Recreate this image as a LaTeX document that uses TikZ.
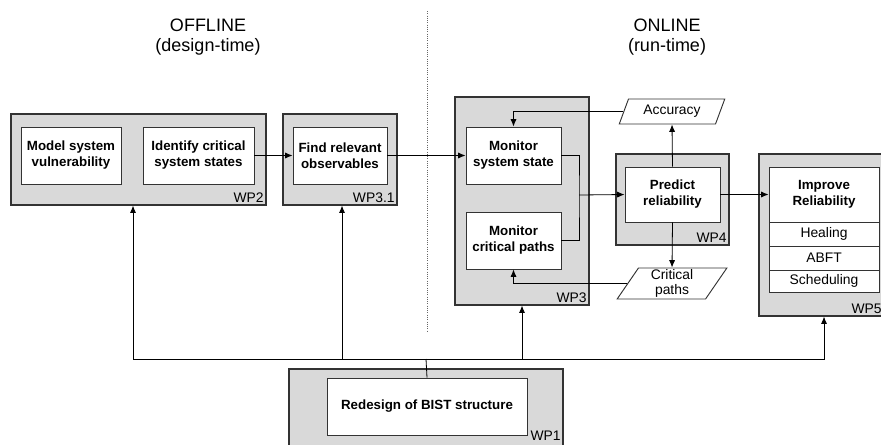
\documentclass[tikz,border=0pt]{standalone}
\usepackage{fontspec}
\setmainfont{Liberation Sans}
\usepackage{tikz}
\usetikzlibrary{positioning}
\usetikzlibrary{shapes.geometric,arrows.meta}
\definecolor{wpgray}{RGB}{217,217,217}

\begin{document}
\begin{tikzpicture}[x=0.75pt,y=-0.75pt,
  wpbox/.style = {shape=rectangle, draw=black!80, line width=0.8pt,
    fill=wpgray},
  taskbox/.style = {shape=rectangle, draw=black!80, line width=0.7pt,
    fill=white, align=center, inner sep=1pt,
    font=\fontsize{10}{12}\selectfont\bfseries},
  subbox/.style = {shape=rectangle, draw=black!80, line width=0.7pt,
    fill=white, minimum width=82.5pt, inner sep=0pt,
    font=\fontsize{10.4}{12}\selectfont},
  wplabel/.style = {anchor=south east, inner sep=2pt,
    font=\fontsize{10.4}{12}\selectfont},
  dataio/.style = {trapezium, trapezium left angle=64,
    trapezium right angle=116, trapezium stretches=true,
    draw=black!80, line width=0.7pt, fill=white, align=center,
    inner sep=0pt, font=\fontsize{10.4}{11}\selectfont},
  phase/.style = {align=center, font=\fontsize{13.5}{15}\selectfont},
  flow/.style = {draw, line width=0.6pt, -{Latex[length=5.5pt,width=4.5pt]}}
  ]
  \useasboundingbox (0,0) rectangle (881,444);
  \clip (0,0) rectangle (881,444);

  % offline / online split
  \node[phase] (offline) at (208,37) {OFFLINE\\(design-time)};
  \node[phase] (online) at (667,37) {ONLINE\\(run-time)};
  \draw[black!60, densely dotted, line width=0.7pt] (427,11) -- (427,331);

  % work packages
  \node[wpbox, minimum width=191.25pt, minimum height=68.25pt] (wp2) at (138.5,159.5) {};
  \node[wpbox, minimum width=85.5pt, minimum height=68.25pt] (wp31) at (340,159.5) {};
  \node[wpbox, minimum width=100.5pt, minimum height=156pt] (wp3) at (522,201) {};
  \node[wpbox, minimum width=84.75pt, minimum height=68.25pt] (wp4) at (672.5,199.5) {};
  \node[wpbox, minimum width=93.75pt, minimum height=121.5pt] (wp5) at (821.5,235) {};
  \node[wpbox, minimum width=205.5pt, minimum height=57.75pt] (wp1) at (426,407.5) {};

  \node[wplabel] (wp2lbl) at (wp2.south east) {WP2};
  \node[wplabel] (wp31lbl) at (wp31.south east) {WP3.1};
  \node[wplabel] (wp3lbl) at (wp3.south east) {WP3};
  \node[wplabel] (wp4lbl) at (wp4.south east) {WP4};
  \node[wplabel] (wp5lbl) at (wp5.south east) {WP5};
  \node[wplabel] (wp1lbl) at (wp1.east |- 0,443) {WP1};

  % tasks
  \node[taskbox, minimum width=75pt, minimum height=42.75pt] (model) at (71,155.5) {Model system\\vulnerability};
  \node[taskbox, minimum width=83.25pt, minimum height=42.75pt] (identify) at (198.5,155.5) {Identify critical\\system states};
  \node[taskbox, minimum width=70.5pt, minimum height=42.75pt] (observ) at (340,155.5) {Find relevant\\observables};
  \node[taskbox, minimum width=71.25pt, minimum height=42.75pt] (monstate) at (513.5,155.5) {Monitor\\system state};
  \node[taskbox, minimum width=71.25pt, minimum height=42.75pt] (monpaths) at (513.5,240.5) {Monitor\\critical paths};
  \node[taskbox, minimum width=71.25pt, minimum height=41.25pt] (predict) at (672.5,194.5) {Predict\\reliability};
  \node[taskbox, minimum width=82.5pt, minimum height=41.25pt] (improve) at (824,194.5) {Improve\\Reliability};
  \node[subbox, minimum height=18pt] (healing) at (824,234) {Healing};
  \node[subbox, minimum height=18pt] (abft) at (824,258) {ABFT};
  \node[subbox, minimum height=16.5pt] (sched) at (824,281) {Scheduling};
  \node[taskbox, minimum width=150pt, minimum height=42.75pt] (bist) at (427,406.5) {Redesign of BIST structure};

  % data
  \node[dataio, minimum width=79.5pt, minimum height=18.75pt] (accuracy) at (672,111.5) {Accuracy};
  \node[dataio, minimum width=82.5pt, minimum height=23.25pt] (critpaths) at (672,283.5) {Critical\\paths};

  % flow
  \coordinate (join) at (579,195);
  \coordinate (bus) at (426,359);
  \coordinate (busleft) at (133,359);
  \coordinate (busright) at (824,359);
  \draw[flow] (identify) -- (observ);
  \draw[flow] (observ) -- (monstate);
  \draw[flow] (accuracy.west) -| (monstate.north);
  \draw[line width=0.6pt] (monstate.east) -| (join) |- (monpaths.east);
  \draw[flow] (join) -- (predict.west);
  \draw[flow] (predict.north) -- (accuracy.south);
  \draw[flow] (predict.south) -- (critpaths.north);
  \draw[flow] (critpaths.west) -| (monpaths.south);
  \draw[flow] (predict) -- (improve);

  \draw[line width=0.6pt] (bist.north) -- (bus);
  \draw[flow] (bus) -| (busleft |- wp2.south);
  \draw[flow] (bus) -| ([xshift=1.5pt]wp31.south);
  \draw[flow] (bus) -| (wp3.south);
  \draw[flow] (bus) -| (busright |- wp5.south);
\end{tikzpicture}
\end{document}
